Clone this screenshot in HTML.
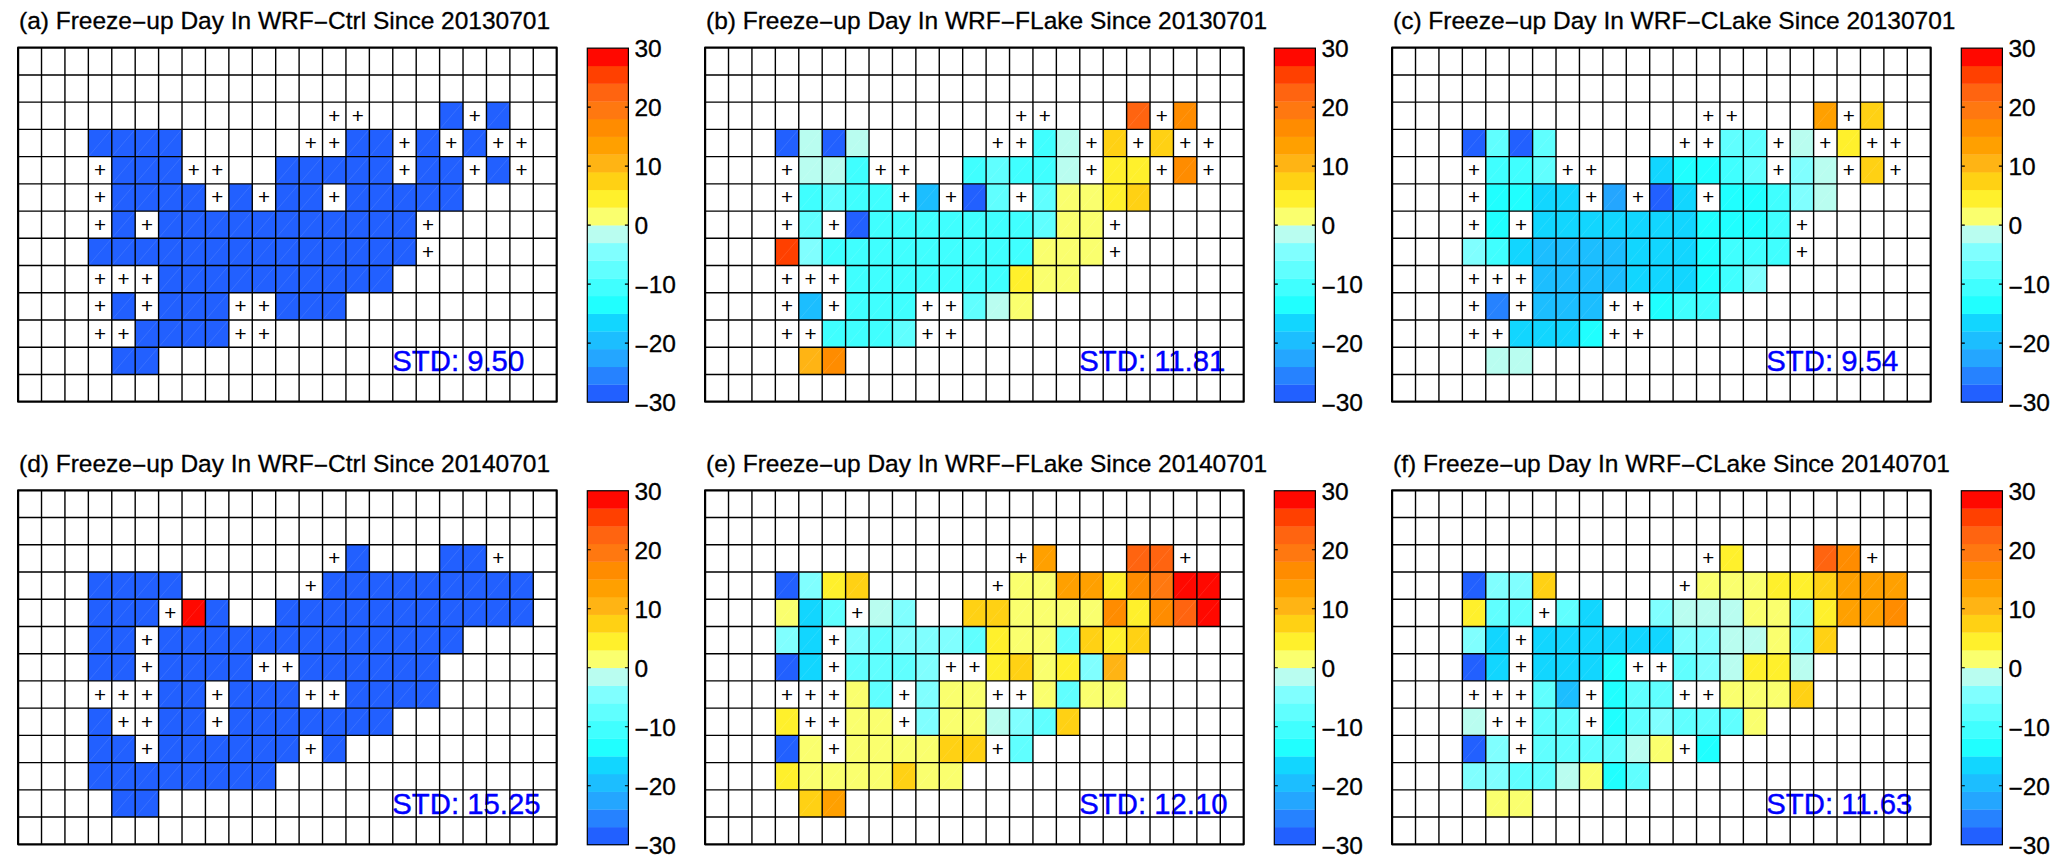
<!DOCTYPE html>
<html lang="en"><head><meta charset="utf-8"><title>Freeze-up Day</title>
<style>html,body{margin:0;padding:0;background:#fff;overflow:hidden}svg{display:block}text{font-family:"Liberation Sans",sans-serif}.t{font-size:24.5px;fill:#000;stroke:#000;stroke-width:.3px}.k{font-size:24.5px;fill:#000;stroke:#000;stroke-width:.3px}.s{font-size:29.3px;fill:#0000ff;stroke:#0000ff;stroke-width:.4px}.p{font-size:20.6px;fill:#000;text-anchor:middle}</style></head><body>
<svg width="2067" height="866" viewBox="0 0 2067 866">
<rect width="2067" height="866" fill="#fff"/>
<g transform="translate(18.10,47.70)">
<text class="t" x="0.9" y="-18.8">(a) Freeze<tspan dy="2.4">−</tspan><tspan dy="-2.4">up Day In WRF</tspan><tspan dy="2.4">−</tspan><tspan dy="-2.4">Ctrl Since 20130701</tspan></text>
<rect x="421.51" y="54.46" width="23.42" height="27.23" fill="#2260ff"/>
<rect x="468.35" y="54.46" width="23.42" height="27.23" fill="#2260ff"/>
<rect x="70.25" y="81.69" width="93.67" height="27.23" fill="#2260ff"/>
<rect x="327.84" y="81.69" width="46.83" height="27.23" fill="#2260ff"/>
<rect x="398.10" y="81.69" width="23.42" height="27.23" fill="#2260ff"/>
<rect x="444.93" y="81.69" width="23.42" height="27.23" fill="#2260ff"/>
<rect x="93.67" y="108.92" width="70.25" height="27.23" fill="#2260ff"/>
<rect x="257.59" y="108.92" width="117.09" height="27.23" fill="#2260ff"/>
<rect x="398.10" y="108.92" width="46.83" height="27.23" fill="#2260ff"/>
<rect x="468.35" y="108.92" width="23.42" height="27.23" fill="#2260ff"/>
<rect x="93.67" y="136.15" width="93.67" height="27.23" fill="#2260ff"/>
<rect x="210.76" y="136.15" width="23.42" height="27.23" fill="#2260ff"/>
<rect x="257.59" y="136.15" width="46.83" height="27.23" fill="#2260ff"/>
<rect x="327.84" y="136.15" width="117.09" height="27.23" fill="#2260ff"/>
<rect x="93.67" y="163.38" width="23.42" height="27.23" fill="#2260ff"/>
<rect x="140.50" y="163.38" width="257.59" height="27.23" fill="#2260ff"/>
<rect x="70.25" y="190.62" width="327.84" height="27.23" fill="#2260ff"/>
<rect x="140.50" y="217.85" width="234.17" height="27.23" fill="#2260ff"/>
<rect x="93.67" y="245.08" width="23.42" height="27.23" fill="#2260ff"/>
<rect x="140.50" y="245.08" width="70.25" height="27.23" fill="#2260ff"/>
<rect x="257.59" y="245.08" width="70.25" height="27.23" fill="#2260ff"/>
<rect x="117.09" y="272.31" width="93.67" height="27.23" fill="#2260ff"/>
<rect x="93.67" y="299.54" width="46.83" height="27.23" fill="#2260ff"/>
<path d="M421.51 81.69L444.93 54.46M468.35 81.69L491.77 54.46M70.25 108.92L93.67 81.69M93.67 108.92L117.09 81.69M117.09 108.92L140.50 81.69M140.50 108.92L163.92 81.69M327.84 108.92L351.26 81.69M351.26 108.92L374.68 81.69M398.10 108.92L421.51 81.69M444.93 108.92L468.35 81.69M93.67 136.15L117.09 108.92M117.09 136.15L140.50 108.92M140.50 136.15L163.92 108.92M257.59 136.15L281.01 108.92M281.01 136.15L304.43 108.92M304.43 136.15L327.84 108.92M327.84 136.15L351.26 108.92M351.26 136.15L374.68 108.92M398.10 136.15L421.51 108.92M421.51 136.15L444.93 108.92M468.35 136.15L491.77 108.92M93.67 163.38L117.09 136.15M117.09 163.38L140.50 136.15M140.50 163.38L163.92 136.15M163.92 163.38L187.34 136.15M210.76 163.38L234.17 136.15M257.59 163.38L281.01 136.15M281.01 163.38L304.43 136.15M327.84 163.38L351.26 136.15M351.26 163.38L374.68 136.15M374.68 163.38L398.10 136.15M398.10 163.38L421.51 136.15M421.51 163.38L444.93 136.15M93.67 190.62L117.09 163.38M140.50 190.62L163.92 163.38M163.92 190.62L187.34 163.38M187.34 190.62L210.76 163.38M210.76 190.62L234.17 163.38M234.17 190.62L257.59 163.38M257.59 190.62L281.01 163.38M281.01 190.62L304.43 163.38M304.43 190.62L327.84 163.38M327.84 190.62L351.26 163.38M351.26 190.62L374.68 163.38M374.68 190.62L398.10 163.38M70.25 217.85L93.67 190.62M93.67 217.85L117.09 190.62M117.09 217.85L140.50 190.62M140.50 217.85L163.92 190.62M163.92 217.85L187.34 190.62M187.34 217.85L210.76 190.62M210.76 217.85L234.17 190.62M234.17 217.85L257.59 190.62M257.59 217.85L281.01 190.62M281.01 217.85L304.43 190.62M304.43 217.85L327.84 190.62M327.84 217.85L351.26 190.62M351.26 217.85L374.68 190.62M374.68 217.85L398.10 190.62M140.50 245.08L163.92 217.85M163.92 245.08L187.34 217.85M187.34 245.08L210.76 217.85M210.76 245.08L234.17 217.85M234.17 245.08L257.59 217.85M257.59 245.08L281.01 217.85M281.01 245.08L304.43 217.85M304.43 245.08L327.84 217.85M327.84 245.08L351.26 217.85M351.26 245.08L374.68 217.85M93.67 272.31L117.09 245.08M140.50 272.31L163.92 245.08M163.92 272.31L187.34 245.08M187.34 272.31L210.76 245.08M257.59 272.31L281.01 245.08M281.01 272.31L304.43 245.08M304.43 272.31L327.84 245.08M117.09 299.54L140.50 272.31M140.50 299.54L163.92 272.31M163.92 299.54L187.34 272.31M187.34 299.54L210.76 272.31M93.67 326.77L117.09 299.54M117.09 326.77L140.50 299.54" stroke="#fff" stroke-opacity=".10" stroke-width="1" fill="none"/>
<text class="s" x="374.2" y="323.6">STD: 9.50</text>
<path d="M23.42 0V354.00M46.83 0V354.00M70.25 0V354.00M93.67 0V354.00M117.09 0V354.00M140.50 0V354.00M163.92 0V354.00M187.34 0V354.00M210.76 0V354.00M234.17 0V354.00M257.59 0V354.00M281.01 0V354.00M304.43 0V354.00M327.84 0V354.00M351.26 0V354.00M374.68 0V354.00M398.10 0V354.00M421.51 0V354.00M444.93 0V354.00M468.35 0V354.00M491.77 0V354.00M515.18 0V354.00M0 27.23H538.60M0 54.46H538.60M0 81.69H538.60M0 108.92H538.60M0 136.15H538.60M0 163.38H538.60M0 190.62H538.60M0 217.85H538.60M0 245.08H538.60M0 272.31H538.60M0 299.54H538.60M0 326.77H538.60" stroke="#000" stroke-width="1.4" fill="none"/>
<rect x="0" y="0" width="538.60" height="354.00" fill="none" stroke="#000" stroke-width="2.2" stroke-linejoin="round"/>
<text class="p" x="316.13" y="75.08">+</text>
<text class="p" x="339.55" y="75.08">+</text>
<text class="p" x="456.64" y="75.08">+</text>
<text class="p" x="292.72" y="102.31">+</text>
<text class="p" x="316.13" y="102.31">+</text>
<text class="p" x="386.39" y="102.31">+</text>
<text class="p" x="433.22" y="102.31">+</text>
<text class="p" x="480.06" y="102.31">+</text>
<text class="p" x="503.47" y="102.31">+</text>
<text class="p" x="81.96" y="129.54">+</text>
<text class="p" x="175.63" y="129.54">+</text>
<text class="p" x="199.05" y="129.54">+</text>
<text class="p" x="386.39" y="129.54">+</text>
<text class="p" x="456.64" y="129.54">+</text>
<text class="p" x="503.47" y="129.54">+</text>
<text class="p" x="81.96" y="156.77">+</text>
<text class="p" x="199.05" y="156.77">+</text>
<text class="p" x="245.88" y="156.77">+</text>
<text class="p" x="316.13" y="156.77">+</text>
<text class="p" x="81.96" y="184.00">+</text>
<text class="p" x="128.80" y="184.00">+</text>
<text class="p" x="409.80" y="184.00">+</text>
<text class="p" x="409.80" y="211.23">+</text>
<text class="p" x="81.96" y="238.46">+</text>
<text class="p" x="105.38" y="238.46">+</text>
<text class="p" x="128.80" y="238.46">+</text>
<text class="p" x="81.96" y="265.69">+</text>
<text class="p" x="128.80" y="265.69">+</text>
<text class="p" x="222.47" y="265.69">+</text>
<text class="p" x="245.88" y="265.69">+</text>
<text class="p" x="81.96" y="292.92">+</text>
<text class="p" x="105.38" y="292.92">+</text>
<text class="p" x="222.47" y="292.92">+</text>
<text class="p" x="245.88" y="292.92">+</text>
<g transform="translate(0,0.45)">
<rect x="569.20" y="336.30" width="41.10" height="18.00" fill="#2260ff"/>
<rect x="569.20" y="318.60" width="41.10" height="18.00" fill="#2682ff"/>
<rect x="569.20" y="300.90" width="41.10" height="18.00" fill="#24a6ff"/>
<rect x="569.20" y="283.20" width="41.10" height="18.00" fill="#1cbeff"/>
<rect x="569.20" y="265.50" width="41.10" height="18.00" fill="#12d6ff"/>
<rect x="569.20" y="247.80" width="41.10" height="18.00" fill="#20ffff"/>
<rect x="569.20" y="230.10" width="41.10" height="18.00" fill="#40ffff"/>
<rect x="569.20" y="212.40" width="41.10" height="18.00" fill="#60ffff"/>
<rect x="569.20" y="194.70" width="41.10" height="18.00" fill="#80ffff"/>
<rect x="569.20" y="177.00" width="41.10" height="18.00" fill="#b9fdf0"/>
<rect x="569.20" y="159.30" width="41.10" height="18.00" fill="#faff6e"/>
<rect x="569.20" y="141.60" width="41.10" height="18.00" fill="#fff02c"/>
<rect x="569.20" y="123.90" width="41.10" height="18.00" fill="#ffd114"/>
<rect x="569.20" y="106.20" width="41.10" height="18.00" fill="#ffb414"/>
<rect x="569.20" y="88.50" width="41.10" height="18.00" fill="#ffa000"/>
<rect x="569.20" y="70.80" width="41.10" height="18.00" fill="#ff8c00"/>
<rect x="569.20" y="53.10" width="41.10" height="18.00" fill="#ff7810"/>
<rect x="569.20" y="35.40" width="41.10" height="18.00" fill="#ff6410"/>
<rect x="569.20" y="17.70" width="41.10" height="18.00" fill="#ff4000"/>
<rect x="569.20" y="0.00" width="41.10" height="18.00" fill="#ff0800"/>
<rect x="569.20" y="0" width="41.10" height="354.00" fill="none" stroke="#000" stroke-width="1.2"/>
<text class="k" x="616.3" y="9.2">30</text>
<path d="M569.20 59.00h3.5M610.30 59.00h-3.5" stroke="#000" stroke-width="1.2"/>
<text class="k" x="616.3" y="68.2">20</text>
<path d="M569.20 118.00h3.5M610.30 118.00h-3.5" stroke="#000" stroke-width="1.2"/>
<text class="k" x="616.3" y="127.2">10</text>
<path d="M569.20 177.00h3.5M610.30 177.00h-3.5" stroke="#000" stroke-width="1.2"/>
<text class="k" x="616.3" y="186.2">0</text>
<path d="M569.20 236.00h3.5M610.30 236.00h-3.5" stroke="#000" stroke-width="1.2"/>
<text class="k" x="616.3" y="245.2"><tspan dy="2.4">−</tspan><tspan dy="-2.4">10</tspan></text>
<path d="M569.20 295.00h3.5M610.30 295.00h-3.5" stroke="#000" stroke-width="1.2"/>
<text class="k" x="616.3" y="304.2"><tspan dy="2.4">−</tspan><tspan dy="-2.4">20</tspan></text>
<text class="k" x="616.3" y="363.2"><tspan dy="2.4">−</tspan><tspan dy="-2.4">30</tspan></text>
</g>
</g>
<g transform="translate(705.10,47.70)">
<text class="t" x="0.9" y="-18.8">(b) Freeze<tspan dy="2.4">−</tspan><tspan dy="-2.4">up Day In WRF</tspan><tspan dy="2.4">−</tspan><tspan dy="-2.4">FLake Since 20130701</tspan></text>
<rect x="421.51" y="54.46" width="23.42" height="27.23" fill="#ff6410"/>
<rect x="468.35" y="54.46" width="23.42" height="27.23" fill="#ff8c00"/>
<rect x="70.25" y="81.69" width="23.42" height="27.23" fill="#2260ff"/>
<rect x="93.67" y="81.69" width="23.42" height="27.23" fill="#b9fdf0"/>
<rect x="117.09" y="81.69" width="23.42" height="27.23" fill="#2260ff"/>
<rect x="140.50" y="81.69" width="23.42" height="27.23" fill="#b9fdf0"/>
<rect x="327.84" y="81.69" width="23.42" height="27.23" fill="#40ffff"/>
<rect x="351.26" y="81.69" width="23.42" height="27.23" fill="#b9fdf0"/>
<rect x="398.10" y="81.69" width="23.42" height="27.23" fill="#ffd114"/>
<rect x="444.93" y="81.69" width="23.42" height="27.23" fill="#ffd114"/>
<rect x="93.67" y="108.92" width="46.83" height="27.23" fill="#b9fdf0"/>
<rect x="140.50" y="108.92" width="23.42" height="27.23" fill="#40ffff"/>
<rect x="257.59" y="108.92" width="23.42" height="27.23" fill="#40ffff"/>
<rect x="281.01" y="108.92" width="23.42" height="27.23" fill="#60ffff"/>
<rect x="304.43" y="108.92" width="46.83" height="27.23" fill="#40ffff"/>
<rect x="351.26" y="108.92" width="23.42" height="27.23" fill="#b9fdf0"/>
<rect x="398.10" y="108.92" width="46.83" height="27.23" fill="#fff02c"/>
<rect x="468.35" y="108.92" width="23.42" height="27.23" fill="#ff8c00"/>
<rect x="93.67" y="136.15" width="23.42" height="27.23" fill="#40ffff"/>
<rect x="117.09" y="136.15" width="23.42" height="27.23" fill="#60ffff"/>
<rect x="140.50" y="136.15" width="46.83" height="27.23" fill="#40ffff"/>
<rect x="210.76" y="136.15" width="23.42" height="27.23" fill="#1cbeff"/>
<rect x="257.59" y="136.15" width="23.42" height="27.23" fill="#2260ff"/>
<rect x="281.01" y="136.15" width="23.42" height="27.23" fill="#60ffff"/>
<rect x="327.84" y="136.15" width="23.42" height="27.23" fill="#60ffff"/>
<rect x="351.26" y="136.15" width="46.83" height="27.23" fill="#faff6e"/>
<rect x="398.10" y="136.15" width="23.42" height="27.23" fill="#fff02c"/>
<rect x="421.51" y="136.15" width="23.42" height="27.23" fill="#ffd114"/>
<rect x="93.67" y="163.38" width="23.42" height="27.23" fill="#60ffff"/>
<rect x="140.50" y="163.38" width="23.42" height="27.23" fill="#2260ff"/>
<rect x="163.92" y="163.38" width="163.92" height="27.23" fill="#40ffff"/>
<rect x="327.84" y="163.38" width="23.42" height="27.23" fill="#60ffff"/>
<rect x="351.26" y="163.38" width="46.83" height="27.23" fill="#faff6e"/>
<rect x="70.25" y="190.62" width="23.42" height="27.23" fill="#ff4000"/>
<rect x="93.67" y="190.62" width="23.42" height="27.23" fill="#80ffff"/>
<rect x="117.09" y="190.62" width="210.76" height="27.23" fill="#40ffff"/>
<rect x="327.84" y="190.62" width="70.25" height="27.23" fill="#faff6e"/>
<rect x="140.50" y="217.85" width="163.92" height="27.23" fill="#40ffff"/>
<rect x="304.43" y="217.85" width="23.42" height="27.23" fill="#fff02c"/>
<rect x="327.84" y="217.85" width="46.83" height="27.23" fill="#faff6e"/>
<rect x="93.67" y="245.08" width="23.42" height="27.23" fill="#1cbeff"/>
<rect x="140.50" y="245.08" width="70.25" height="27.23" fill="#40ffff"/>
<rect x="257.59" y="245.08" width="23.42" height="27.23" fill="#60ffff"/>
<rect x="281.01" y="245.08" width="23.42" height="27.23" fill="#b9fdf0"/>
<rect x="304.43" y="245.08" width="23.42" height="27.23" fill="#faff6e"/>
<rect x="117.09" y="272.31" width="70.25" height="27.23" fill="#40ffff"/>
<rect x="187.34" y="272.31" width="23.42" height="27.23" fill="#60ffff"/>
<rect x="93.67" y="299.54" width="23.42" height="27.23" fill="#ffb414"/>
<rect x="117.09" y="299.54" width="23.42" height="27.23" fill="#ff8c00"/>
<path d="M421.51 81.69L444.93 54.46M468.35 81.69L491.77 54.46M70.25 108.92L93.67 81.69M93.67 108.92L117.09 81.69M117.09 108.92L140.50 81.69M140.50 108.92L163.92 81.69M327.84 108.92L351.26 81.69M351.26 108.92L374.68 81.69M398.10 108.92L421.51 81.69M444.93 108.92L468.35 81.69M93.67 136.15L117.09 108.92M117.09 136.15L140.50 108.92M140.50 136.15L163.92 108.92M257.59 136.15L281.01 108.92M281.01 136.15L304.43 108.92M304.43 136.15L327.84 108.92M327.84 136.15L351.26 108.92M351.26 136.15L374.68 108.92M398.10 136.15L421.51 108.92M421.51 136.15L444.93 108.92M468.35 136.15L491.77 108.92M93.67 163.38L117.09 136.15M117.09 163.38L140.50 136.15M140.50 163.38L163.92 136.15M163.92 163.38L187.34 136.15M210.76 163.38L234.17 136.15M257.59 163.38L281.01 136.15M281.01 163.38L304.43 136.15M327.84 163.38L351.26 136.15M351.26 163.38L374.68 136.15M374.68 163.38L398.10 136.15M398.10 163.38L421.51 136.15M421.51 163.38L444.93 136.15M93.67 190.62L117.09 163.38M140.50 190.62L163.92 163.38M163.92 190.62L187.34 163.38M187.34 190.62L210.76 163.38M210.76 190.62L234.17 163.38M234.17 190.62L257.59 163.38M257.59 190.62L281.01 163.38M281.01 190.62L304.43 163.38M304.43 190.62L327.84 163.38M327.84 190.62L351.26 163.38M351.26 190.62L374.68 163.38M374.68 190.62L398.10 163.38M70.25 217.85L93.67 190.62M93.67 217.85L117.09 190.62M117.09 217.85L140.50 190.62M140.50 217.85L163.92 190.62M163.92 217.85L187.34 190.62M187.34 217.85L210.76 190.62M210.76 217.85L234.17 190.62M234.17 217.85L257.59 190.62M257.59 217.85L281.01 190.62M281.01 217.85L304.43 190.62M304.43 217.85L327.84 190.62M327.84 217.85L351.26 190.62M351.26 217.85L374.68 190.62M374.68 217.85L398.10 190.62M140.50 245.08L163.92 217.85M163.92 245.08L187.34 217.85M187.34 245.08L210.76 217.85M210.76 245.08L234.17 217.85M234.17 245.08L257.59 217.85M257.59 245.08L281.01 217.85M281.01 245.08L304.43 217.85M304.43 245.08L327.84 217.85M327.84 245.08L351.26 217.85M351.26 245.08L374.68 217.85M93.67 272.31L117.09 245.08M140.50 272.31L163.92 245.08M163.92 272.31L187.34 245.08M187.34 272.31L210.76 245.08M257.59 272.31L281.01 245.08M281.01 272.31L304.43 245.08M304.43 272.31L327.84 245.08M117.09 299.54L140.50 272.31M140.50 299.54L163.92 272.31M163.92 299.54L187.34 272.31M187.34 299.54L210.76 272.31M93.67 326.77L117.09 299.54M117.09 326.77L140.50 299.54" stroke="#fff" stroke-opacity=".10" stroke-width="1" fill="none"/>
<text class="s" x="374.2" y="323.6">STD: 11.81</text>
<path d="M23.42 0V354.00M46.83 0V354.00M70.25 0V354.00M93.67 0V354.00M117.09 0V354.00M140.50 0V354.00M163.92 0V354.00M187.34 0V354.00M210.76 0V354.00M234.17 0V354.00M257.59 0V354.00M281.01 0V354.00M304.43 0V354.00M327.84 0V354.00M351.26 0V354.00M374.68 0V354.00M398.10 0V354.00M421.51 0V354.00M444.93 0V354.00M468.35 0V354.00M491.77 0V354.00M515.18 0V354.00M0 27.23H538.60M0 54.46H538.60M0 81.69H538.60M0 108.92H538.60M0 136.15H538.60M0 163.38H538.60M0 190.62H538.60M0 217.85H538.60M0 245.08H538.60M0 272.31H538.60M0 299.54H538.60M0 326.77H538.60" stroke="#000" stroke-width="1.4" fill="none"/>
<rect x="0" y="0" width="538.60" height="354.00" fill="none" stroke="#000" stroke-width="2.2" stroke-linejoin="round"/>
<text class="p" x="316.13" y="75.08">+</text>
<text class="p" x="339.55" y="75.08">+</text>
<text class="p" x="456.64" y="75.08">+</text>
<text class="p" x="292.72" y="102.31">+</text>
<text class="p" x="316.13" y="102.31">+</text>
<text class="p" x="386.39" y="102.31">+</text>
<text class="p" x="433.22" y="102.31">+</text>
<text class="p" x="480.06" y="102.31">+</text>
<text class="p" x="503.47" y="102.31">+</text>
<text class="p" x="81.96" y="129.54">+</text>
<text class="p" x="175.63" y="129.54">+</text>
<text class="p" x="199.05" y="129.54">+</text>
<text class="p" x="386.39" y="129.54">+</text>
<text class="p" x="456.64" y="129.54">+</text>
<text class="p" x="503.47" y="129.54">+</text>
<text class="p" x="81.96" y="156.77">+</text>
<text class="p" x="199.05" y="156.77">+</text>
<text class="p" x="245.88" y="156.77">+</text>
<text class="p" x="316.13" y="156.77">+</text>
<text class="p" x="81.96" y="184.00">+</text>
<text class="p" x="128.80" y="184.00">+</text>
<text class="p" x="409.80" y="184.00">+</text>
<text class="p" x="409.80" y="211.23">+</text>
<text class="p" x="81.96" y="238.46">+</text>
<text class="p" x="105.38" y="238.46">+</text>
<text class="p" x="128.80" y="238.46">+</text>
<text class="p" x="81.96" y="265.69">+</text>
<text class="p" x="128.80" y="265.69">+</text>
<text class="p" x="222.47" y="265.69">+</text>
<text class="p" x="245.88" y="265.69">+</text>
<text class="p" x="81.96" y="292.92">+</text>
<text class="p" x="105.38" y="292.92">+</text>
<text class="p" x="222.47" y="292.92">+</text>
<text class="p" x="245.88" y="292.92">+</text>
<g transform="translate(0,0.45)">
<rect x="569.20" y="336.30" width="41.10" height="18.00" fill="#2260ff"/>
<rect x="569.20" y="318.60" width="41.10" height="18.00" fill="#2682ff"/>
<rect x="569.20" y="300.90" width="41.10" height="18.00" fill="#24a6ff"/>
<rect x="569.20" y="283.20" width="41.10" height="18.00" fill="#1cbeff"/>
<rect x="569.20" y="265.50" width="41.10" height="18.00" fill="#12d6ff"/>
<rect x="569.20" y="247.80" width="41.10" height="18.00" fill="#20ffff"/>
<rect x="569.20" y="230.10" width="41.10" height="18.00" fill="#40ffff"/>
<rect x="569.20" y="212.40" width="41.10" height="18.00" fill="#60ffff"/>
<rect x="569.20" y="194.70" width="41.10" height="18.00" fill="#80ffff"/>
<rect x="569.20" y="177.00" width="41.10" height="18.00" fill="#b9fdf0"/>
<rect x="569.20" y="159.30" width="41.10" height="18.00" fill="#faff6e"/>
<rect x="569.20" y="141.60" width="41.10" height="18.00" fill="#fff02c"/>
<rect x="569.20" y="123.90" width="41.10" height="18.00" fill="#ffd114"/>
<rect x="569.20" y="106.20" width="41.10" height="18.00" fill="#ffb414"/>
<rect x="569.20" y="88.50" width="41.10" height="18.00" fill="#ffa000"/>
<rect x="569.20" y="70.80" width="41.10" height="18.00" fill="#ff8c00"/>
<rect x="569.20" y="53.10" width="41.10" height="18.00" fill="#ff7810"/>
<rect x="569.20" y="35.40" width="41.10" height="18.00" fill="#ff6410"/>
<rect x="569.20" y="17.70" width="41.10" height="18.00" fill="#ff4000"/>
<rect x="569.20" y="0.00" width="41.10" height="18.00" fill="#ff0800"/>
<rect x="569.20" y="0" width="41.10" height="354.00" fill="none" stroke="#000" stroke-width="1.2"/>
<text class="k" x="616.3" y="9.2">30</text>
<path d="M569.20 59.00h3.5M610.30 59.00h-3.5" stroke="#000" stroke-width="1.2"/>
<text class="k" x="616.3" y="68.2">20</text>
<path d="M569.20 118.00h3.5M610.30 118.00h-3.5" stroke="#000" stroke-width="1.2"/>
<text class="k" x="616.3" y="127.2">10</text>
<path d="M569.20 177.00h3.5M610.30 177.00h-3.5" stroke="#000" stroke-width="1.2"/>
<text class="k" x="616.3" y="186.2">0</text>
<path d="M569.20 236.00h3.5M610.30 236.00h-3.5" stroke="#000" stroke-width="1.2"/>
<text class="k" x="616.3" y="245.2"><tspan dy="2.4">−</tspan><tspan dy="-2.4">10</tspan></text>
<path d="M569.20 295.00h3.5M610.30 295.00h-3.5" stroke="#000" stroke-width="1.2"/>
<text class="k" x="616.3" y="304.2"><tspan dy="2.4">−</tspan><tspan dy="-2.4">20</tspan></text>
<text class="k" x="616.3" y="363.2"><tspan dy="2.4">−</tspan><tspan dy="-2.4">30</tspan></text>
</g>
</g>
<g transform="translate(1392.10,47.70)">
<text class="t" x="0.9" y="-18.8">(c) Freeze<tspan dy="2.4">−</tspan><tspan dy="-2.4">up Day In WRF</tspan><tspan dy="2.4">−</tspan><tspan dy="-2.4">CLake Since 20130701</tspan></text>
<rect x="421.51" y="54.46" width="23.42" height="27.23" fill="#ffa000"/>
<rect x="468.35" y="54.46" width="23.42" height="27.23" fill="#ffd114"/>
<rect x="70.25" y="81.69" width="23.42" height="27.23" fill="#2260ff"/>
<rect x="93.67" y="81.69" width="23.42" height="27.23" fill="#60ffff"/>
<rect x="117.09" y="81.69" width="23.42" height="27.23" fill="#2260ff"/>
<rect x="140.50" y="81.69" width="23.42" height="27.23" fill="#60ffff"/>
<rect x="327.84" y="81.69" width="46.83" height="27.23" fill="#60ffff"/>
<rect x="398.10" y="81.69" width="23.42" height="27.23" fill="#b9fdf0"/>
<rect x="444.93" y="81.69" width="23.42" height="27.23" fill="#fff02c"/>
<rect x="93.67" y="108.92" width="46.83" height="27.23" fill="#40ffff"/>
<rect x="140.50" y="108.92" width="23.42" height="27.23" fill="#60ffff"/>
<rect x="257.59" y="108.92" width="23.42" height="27.23" fill="#12d6ff"/>
<rect x="281.01" y="108.92" width="46.83" height="27.23" fill="#20ffff"/>
<rect x="327.84" y="108.92" width="23.42" height="27.23" fill="#40ffff"/>
<rect x="351.26" y="108.92" width="23.42" height="27.23" fill="#60ffff"/>
<rect x="398.10" y="108.92" width="23.42" height="27.23" fill="#80ffff"/>
<rect x="421.51" y="108.92" width="23.42" height="27.23" fill="#b9fdf0"/>
<rect x="468.35" y="108.92" width="23.42" height="27.23" fill="#ffd114"/>
<rect x="93.67" y="136.15" width="46.83" height="27.23" fill="#20ffff"/>
<rect x="140.50" y="136.15" width="46.83" height="27.23" fill="#12d6ff"/>
<rect x="210.76" y="136.15" width="23.42" height="27.23" fill="#24a6ff"/>
<rect x="257.59" y="136.15" width="23.42" height="27.23" fill="#2260ff"/>
<rect x="281.01" y="136.15" width="23.42" height="27.23" fill="#12d6ff"/>
<rect x="327.84" y="136.15" width="46.83" height="27.23" fill="#20ffff"/>
<rect x="374.68" y="136.15" width="23.42" height="27.23" fill="#40ffff"/>
<rect x="398.10" y="136.15" width="23.42" height="27.23" fill="#80ffff"/>
<rect x="421.51" y="136.15" width="23.42" height="27.23" fill="#b9fdf0"/>
<rect x="93.67" y="163.38" width="23.42" height="27.23" fill="#20ffff"/>
<rect x="140.50" y="163.38" width="163.92" height="27.23" fill="#12d6ff"/>
<rect x="304.43" y="163.38" width="70.25" height="27.23" fill="#20ffff"/>
<rect x="374.68" y="163.38" width="23.42" height="27.23" fill="#40ffff"/>
<rect x="70.25" y="190.62" width="23.42" height="27.23" fill="#80ffff"/>
<rect x="93.67" y="190.62" width="23.42" height="27.23" fill="#40ffff"/>
<rect x="117.09" y="190.62" width="23.42" height="27.23" fill="#12d6ff"/>
<rect x="140.50" y="190.62" width="93.67" height="27.23" fill="#1cbeff"/>
<rect x="234.17" y="190.62" width="70.25" height="27.23" fill="#12d6ff"/>
<rect x="304.43" y="190.62" width="23.42" height="27.23" fill="#20ffff"/>
<rect x="327.84" y="190.62" width="70.25" height="27.23" fill="#40ffff"/>
<rect x="140.50" y="217.85" width="93.67" height="27.23" fill="#1cbeff"/>
<rect x="234.17" y="217.85" width="70.25" height="27.23" fill="#12d6ff"/>
<rect x="304.43" y="217.85" width="23.42" height="27.23" fill="#20ffff"/>
<rect x="327.84" y="217.85" width="23.42" height="27.23" fill="#40ffff"/>
<rect x="351.26" y="217.85" width="23.42" height="27.23" fill="#80ffff"/>
<rect x="93.67" y="245.08" width="23.42" height="27.23" fill="#2682ff"/>
<rect x="140.50" y="245.08" width="70.25" height="27.23" fill="#1cbeff"/>
<rect x="257.59" y="245.08" width="23.42" height="27.23" fill="#20ffff"/>
<rect x="281.01" y="245.08" width="46.83" height="27.23" fill="#40ffff"/>
<rect x="117.09" y="272.31" width="70.25" height="27.23" fill="#12d6ff"/>
<rect x="187.34" y="272.31" width="23.42" height="27.23" fill="#20ffff"/>
<rect x="93.67" y="299.54" width="46.83" height="27.23" fill="#b9fdf0"/>
<path d="M421.51 81.69L444.93 54.46M468.35 81.69L491.77 54.46M70.25 108.92L93.67 81.69M93.67 108.92L117.09 81.69M117.09 108.92L140.50 81.69M140.50 108.92L163.92 81.69M327.84 108.92L351.26 81.69M351.26 108.92L374.68 81.69M398.10 108.92L421.51 81.69M444.93 108.92L468.35 81.69M93.67 136.15L117.09 108.92M117.09 136.15L140.50 108.92M140.50 136.15L163.92 108.92M257.59 136.15L281.01 108.92M281.01 136.15L304.43 108.92M304.43 136.15L327.84 108.92M327.84 136.15L351.26 108.92M351.26 136.15L374.68 108.92M398.10 136.15L421.51 108.92M421.51 136.15L444.93 108.92M468.35 136.15L491.77 108.92M93.67 163.38L117.09 136.15M117.09 163.38L140.50 136.15M140.50 163.38L163.92 136.15M163.92 163.38L187.34 136.15M210.76 163.38L234.17 136.15M257.59 163.38L281.01 136.15M281.01 163.38L304.43 136.15M327.84 163.38L351.26 136.15M351.26 163.38L374.68 136.15M374.68 163.38L398.10 136.15M398.10 163.38L421.51 136.15M421.51 163.38L444.93 136.15M93.67 190.62L117.09 163.38M140.50 190.62L163.92 163.38M163.92 190.62L187.34 163.38M187.34 190.62L210.76 163.38M210.76 190.62L234.17 163.38M234.17 190.62L257.59 163.38M257.59 190.62L281.01 163.38M281.01 190.62L304.43 163.38M304.43 190.62L327.84 163.38M327.84 190.62L351.26 163.38M351.26 190.62L374.68 163.38M374.68 190.62L398.10 163.38M70.25 217.85L93.67 190.62M93.67 217.85L117.09 190.62M117.09 217.85L140.50 190.62M140.50 217.85L163.92 190.62M163.92 217.85L187.34 190.62M187.34 217.85L210.76 190.62M210.76 217.85L234.17 190.62M234.17 217.85L257.59 190.62M257.59 217.85L281.01 190.62M281.01 217.85L304.43 190.62M304.43 217.85L327.84 190.62M327.84 217.85L351.26 190.62M351.26 217.85L374.68 190.62M374.68 217.85L398.10 190.62M140.50 245.08L163.92 217.85M163.92 245.08L187.34 217.85M187.34 245.08L210.76 217.85M210.76 245.08L234.17 217.85M234.17 245.08L257.59 217.85M257.59 245.08L281.01 217.85M281.01 245.08L304.43 217.85M304.43 245.08L327.84 217.85M327.84 245.08L351.26 217.85M351.26 245.08L374.68 217.85M93.67 272.31L117.09 245.08M140.50 272.31L163.92 245.08M163.92 272.31L187.34 245.08M187.34 272.31L210.76 245.08M257.59 272.31L281.01 245.08M281.01 272.31L304.43 245.08M304.43 272.31L327.84 245.08M117.09 299.54L140.50 272.31M140.50 299.54L163.92 272.31M163.92 299.54L187.34 272.31M187.34 299.54L210.76 272.31M93.67 326.77L117.09 299.54M117.09 326.77L140.50 299.54" stroke="#fff" stroke-opacity=".10" stroke-width="1" fill="none"/>
<text class="s" x="374.2" y="323.6">STD: 9.54</text>
<path d="M23.42 0V354.00M46.83 0V354.00M70.25 0V354.00M93.67 0V354.00M117.09 0V354.00M140.50 0V354.00M163.92 0V354.00M187.34 0V354.00M210.76 0V354.00M234.17 0V354.00M257.59 0V354.00M281.01 0V354.00M304.43 0V354.00M327.84 0V354.00M351.26 0V354.00M374.68 0V354.00M398.10 0V354.00M421.51 0V354.00M444.93 0V354.00M468.35 0V354.00M491.77 0V354.00M515.18 0V354.00M0 27.23H538.60M0 54.46H538.60M0 81.69H538.60M0 108.92H538.60M0 136.15H538.60M0 163.38H538.60M0 190.62H538.60M0 217.85H538.60M0 245.08H538.60M0 272.31H538.60M0 299.54H538.60M0 326.77H538.60" stroke="#000" stroke-width="1.4" fill="none"/>
<rect x="0" y="0" width="538.60" height="354.00" fill="none" stroke="#000" stroke-width="2.2" stroke-linejoin="round"/>
<text class="p" x="316.13" y="75.08">+</text>
<text class="p" x="339.55" y="75.08">+</text>
<text class="p" x="456.64" y="75.08">+</text>
<text class="p" x="292.72" y="102.31">+</text>
<text class="p" x="316.13" y="102.31">+</text>
<text class="p" x="386.39" y="102.31">+</text>
<text class="p" x="433.22" y="102.31">+</text>
<text class="p" x="480.06" y="102.31">+</text>
<text class="p" x="503.47" y="102.31">+</text>
<text class="p" x="81.96" y="129.54">+</text>
<text class="p" x="175.63" y="129.54">+</text>
<text class="p" x="199.05" y="129.54">+</text>
<text class="p" x="386.39" y="129.54">+</text>
<text class="p" x="456.64" y="129.54">+</text>
<text class="p" x="503.47" y="129.54">+</text>
<text class="p" x="81.96" y="156.77">+</text>
<text class="p" x="199.05" y="156.77">+</text>
<text class="p" x="245.88" y="156.77">+</text>
<text class="p" x="316.13" y="156.77">+</text>
<text class="p" x="81.96" y="184.00">+</text>
<text class="p" x="128.80" y="184.00">+</text>
<text class="p" x="409.80" y="184.00">+</text>
<text class="p" x="409.80" y="211.23">+</text>
<text class="p" x="81.96" y="238.46">+</text>
<text class="p" x="105.38" y="238.46">+</text>
<text class="p" x="128.80" y="238.46">+</text>
<text class="p" x="81.96" y="265.69">+</text>
<text class="p" x="128.80" y="265.69">+</text>
<text class="p" x="222.47" y="265.69">+</text>
<text class="p" x="245.88" y="265.69">+</text>
<text class="p" x="81.96" y="292.92">+</text>
<text class="p" x="105.38" y="292.92">+</text>
<text class="p" x="222.47" y="292.92">+</text>
<text class="p" x="245.88" y="292.92">+</text>
<g transform="translate(0,0.45)">
<rect x="569.20" y="336.30" width="41.10" height="18.00" fill="#2260ff"/>
<rect x="569.20" y="318.60" width="41.10" height="18.00" fill="#2682ff"/>
<rect x="569.20" y="300.90" width="41.10" height="18.00" fill="#24a6ff"/>
<rect x="569.20" y="283.20" width="41.10" height="18.00" fill="#1cbeff"/>
<rect x="569.20" y="265.50" width="41.10" height="18.00" fill="#12d6ff"/>
<rect x="569.20" y="247.80" width="41.10" height="18.00" fill="#20ffff"/>
<rect x="569.20" y="230.10" width="41.10" height="18.00" fill="#40ffff"/>
<rect x="569.20" y="212.40" width="41.10" height="18.00" fill="#60ffff"/>
<rect x="569.20" y="194.70" width="41.10" height="18.00" fill="#80ffff"/>
<rect x="569.20" y="177.00" width="41.10" height="18.00" fill="#b9fdf0"/>
<rect x="569.20" y="159.30" width="41.10" height="18.00" fill="#faff6e"/>
<rect x="569.20" y="141.60" width="41.10" height="18.00" fill="#fff02c"/>
<rect x="569.20" y="123.90" width="41.10" height="18.00" fill="#ffd114"/>
<rect x="569.20" y="106.20" width="41.10" height="18.00" fill="#ffb414"/>
<rect x="569.20" y="88.50" width="41.10" height="18.00" fill="#ffa000"/>
<rect x="569.20" y="70.80" width="41.10" height="18.00" fill="#ff8c00"/>
<rect x="569.20" y="53.10" width="41.10" height="18.00" fill="#ff7810"/>
<rect x="569.20" y="35.40" width="41.10" height="18.00" fill="#ff6410"/>
<rect x="569.20" y="17.70" width="41.10" height="18.00" fill="#ff4000"/>
<rect x="569.20" y="0.00" width="41.10" height="18.00" fill="#ff0800"/>
<rect x="569.20" y="0" width="41.10" height="354.00" fill="none" stroke="#000" stroke-width="1.2"/>
<text class="k" x="616.3" y="9.2">30</text>
<path d="M569.20 59.00h3.5M610.30 59.00h-3.5" stroke="#000" stroke-width="1.2"/>
<text class="k" x="616.3" y="68.2">20</text>
<path d="M569.20 118.00h3.5M610.30 118.00h-3.5" stroke="#000" stroke-width="1.2"/>
<text class="k" x="616.3" y="127.2">10</text>
<path d="M569.20 177.00h3.5M610.30 177.00h-3.5" stroke="#000" stroke-width="1.2"/>
<text class="k" x="616.3" y="186.2">0</text>
<path d="M569.20 236.00h3.5M610.30 236.00h-3.5" stroke="#000" stroke-width="1.2"/>
<text class="k" x="616.3" y="245.2"><tspan dy="2.4">−</tspan><tspan dy="-2.4">10</tspan></text>
<path d="M569.20 295.00h3.5M610.30 295.00h-3.5" stroke="#000" stroke-width="1.2"/>
<text class="k" x="616.3" y="304.2"><tspan dy="2.4">−</tspan><tspan dy="-2.4">20</tspan></text>
<text class="k" x="616.3" y="363.2"><tspan dy="2.4">−</tspan><tspan dy="-2.4">30</tspan></text>
</g>
</g>
<g transform="translate(18.10,490.30)">
<text class="t" x="0.9" y="-18.8">(d) Freeze<tspan dy="2.4">−</tspan><tspan dy="-2.4">up Day In WRF</tspan><tspan dy="2.4">−</tspan><tspan dy="-2.4">Ctrl Since 20140701</tspan></text>
<rect x="327.84" y="54.46" width="23.42" height="27.23" fill="#2260ff"/>
<rect x="421.51" y="54.46" width="46.83" height="27.23" fill="#2260ff"/>
<rect x="70.25" y="81.69" width="93.67" height="27.23" fill="#2260ff"/>
<rect x="304.43" y="81.69" width="210.76" height="27.23" fill="#2260ff"/>
<rect x="70.25" y="108.92" width="70.25" height="27.23" fill="#2260ff"/>
<rect x="163.92" y="108.92" width="23.42" height="27.23" fill="#ff0800"/>
<rect x="187.34" y="108.92" width="23.42" height="27.23" fill="#2260ff"/>
<rect x="257.59" y="108.92" width="257.59" height="27.23" fill="#2260ff"/>
<rect x="70.25" y="136.15" width="46.83" height="27.23" fill="#2260ff"/>
<rect x="140.50" y="136.15" width="304.43" height="27.23" fill="#2260ff"/>
<rect x="70.25" y="163.38" width="46.83" height="27.23" fill="#2260ff"/>
<rect x="140.50" y="163.38" width="93.67" height="27.23" fill="#2260ff"/>
<rect x="281.01" y="163.38" width="140.50" height="27.23" fill="#2260ff"/>
<rect x="140.50" y="190.62" width="46.83" height="27.23" fill="#2260ff"/>
<rect x="210.76" y="190.62" width="70.25" height="27.23" fill="#2260ff"/>
<rect x="327.84" y="190.62" width="93.67" height="27.23" fill="#2260ff"/>
<rect x="70.25" y="217.85" width="23.42" height="27.23" fill="#2260ff"/>
<rect x="140.50" y="217.85" width="46.83" height="27.23" fill="#2260ff"/>
<rect x="210.76" y="217.85" width="163.92" height="27.23" fill="#2260ff"/>
<rect x="70.25" y="245.08" width="46.83" height="27.23" fill="#2260ff"/>
<rect x="140.50" y="245.08" width="140.50" height="27.23" fill="#2260ff"/>
<rect x="304.43" y="245.08" width="23.42" height="27.23" fill="#2260ff"/>
<rect x="70.25" y="272.31" width="187.34" height="27.23" fill="#2260ff"/>
<rect x="93.67" y="299.54" width="46.83" height="27.23" fill="#2260ff"/>
<path d="M327.84 81.69L351.26 54.46M421.51 81.69L444.93 54.46M444.93 81.69L468.35 54.46M70.25 108.92L93.67 81.69M93.67 108.92L117.09 81.69M117.09 108.92L140.50 81.69M140.50 108.92L163.92 81.69M304.43 108.92L327.84 81.69M327.84 108.92L351.26 81.69M351.26 108.92L374.68 81.69M374.68 108.92L398.10 81.69M398.10 108.92L421.51 81.69M421.51 108.92L444.93 81.69M444.93 108.92L468.35 81.69M468.35 108.92L491.77 81.69M491.77 108.92L515.18 81.69M70.25 136.15L93.67 108.92M93.67 136.15L117.09 108.92M117.09 136.15L140.50 108.92M163.92 136.15L187.34 108.92M187.34 136.15L210.76 108.92M257.59 136.15L281.01 108.92M281.01 136.15L304.43 108.92M304.43 136.15L327.84 108.92M327.84 136.15L351.26 108.92M351.26 136.15L374.68 108.92M374.68 136.15L398.10 108.92M398.10 136.15L421.51 108.92M421.51 136.15L444.93 108.92M444.93 136.15L468.35 108.92M468.35 136.15L491.77 108.92M491.77 136.15L515.18 108.92M70.25 163.38L93.67 136.15M93.67 163.38L117.09 136.15M140.50 163.38L163.92 136.15M163.92 163.38L187.34 136.15M187.34 163.38L210.76 136.15M210.76 163.38L234.17 136.15M234.17 163.38L257.59 136.15M257.59 163.38L281.01 136.15M281.01 163.38L304.43 136.15M304.43 163.38L327.84 136.15M327.84 163.38L351.26 136.15M351.26 163.38L374.68 136.15M374.68 163.38L398.10 136.15M398.10 163.38L421.51 136.15M421.51 163.38L444.93 136.15M70.25 190.62L93.67 163.38M93.67 190.62L117.09 163.38M140.50 190.62L163.92 163.38M163.92 190.62L187.34 163.38M187.34 190.62L210.76 163.38M210.76 190.62L234.17 163.38M281.01 190.62L304.43 163.38M304.43 190.62L327.84 163.38M327.84 190.62L351.26 163.38M351.26 190.62L374.68 163.38M374.68 190.62L398.10 163.38M398.10 190.62L421.51 163.38M140.50 217.85L163.92 190.62M163.92 217.85L187.34 190.62M210.76 217.85L234.17 190.62M234.17 217.85L257.59 190.62M257.59 217.85L281.01 190.62M327.84 217.85L351.26 190.62M351.26 217.85L374.68 190.62M374.68 217.85L398.10 190.62M398.10 217.85L421.51 190.62M70.25 245.08L93.67 217.85M140.50 245.08L163.92 217.85M163.92 245.08L187.34 217.85M210.76 245.08L234.17 217.85M234.17 245.08L257.59 217.85M257.59 245.08L281.01 217.85M281.01 245.08L304.43 217.85M304.43 245.08L327.84 217.85M327.84 245.08L351.26 217.85M351.26 245.08L374.68 217.85M70.25 272.31L93.67 245.08M93.67 272.31L117.09 245.08M140.50 272.31L163.92 245.08M163.92 272.31L187.34 245.08M187.34 272.31L210.76 245.08M210.76 272.31L234.17 245.08M234.17 272.31L257.59 245.08M257.59 272.31L281.01 245.08M304.43 272.31L327.84 245.08M70.25 299.54L93.67 272.31M93.67 299.54L117.09 272.31M117.09 299.54L140.50 272.31M140.50 299.54L163.92 272.31M163.92 299.54L187.34 272.31M187.34 299.54L210.76 272.31M210.76 299.54L234.17 272.31M234.17 299.54L257.59 272.31M93.67 326.77L117.09 299.54M117.09 326.77L140.50 299.54" stroke="#fff" stroke-opacity=".10" stroke-width="1" fill="none"/>
<text class="s" x="374.2" y="323.6">STD: 15.25</text>
<path d="M23.42 0V354.00M46.83 0V354.00M70.25 0V354.00M93.67 0V354.00M117.09 0V354.00M140.50 0V354.00M163.92 0V354.00M187.34 0V354.00M210.76 0V354.00M234.17 0V354.00M257.59 0V354.00M281.01 0V354.00M304.43 0V354.00M327.84 0V354.00M351.26 0V354.00M374.68 0V354.00M398.10 0V354.00M421.51 0V354.00M444.93 0V354.00M468.35 0V354.00M491.77 0V354.00M515.18 0V354.00M0 27.23H538.60M0 54.46H538.60M0 81.69H538.60M0 108.92H538.60M0 136.15H538.60M0 163.38H538.60M0 190.62H538.60M0 217.85H538.60M0 245.08H538.60M0 272.31H538.60M0 299.54H538.60M0 326.77H538.60" stroke="#000" stroke-width="1.4" fill="none"/>
<rect x="0" y="0" width="538.60" height="354.00" fill="none" stroke="#000" stroke-width="2.2" stroke-linejoin="round"/>
<text class="p" x="316.13" y="75.08">+</text>
<text class="p" x="480.06" y="75.08">+</text>
<text class="p" x="292.72" y="102.31">+</text>
<text class="p" x="152.21" y="129.54">+</text>
<text class="p" x="128.80" y="156.77">+</text>
<text class="p" x="128.80" y="184.00">+</text>
<text class="p" x="245.88" y="184.00">+</text>
<text class="p" x="269.30" y="184.00">+</text>
<text class="p" x="81.96" y="211.23">+</text>
<text class="p" x="105.38" y="211.23">+</text>
<text class="p" x="128.80" y="211.23">+</text>
<text class="p" x="199.05" y="211.23">+</text>
<text class="p" x="292.72" y="211.23">+</text>
<text class="p" x="316.13" y="211.23">+</text>
<text class="p" x="105.38" y="238.46">+</text>
<text class="p" x="128.80" y="238.46">+</text>
<text class="p" x="199.05" y="238.46">+</text>
<text class="p" x="128.80" y="265.69">+</text>
<text class="p" x="292.72" y="265.69">+</text>
<g transform="translate(0,0.45)">
<rect x="569.20" y="336.30" width="41.10" height="18.00" fill="#2260ff"/>
<rect x="569.20" y="318.60" width="41.10" height="18.00" fill="#2682ff"/>
<rect x="569.20" y="300.90" width="41.10" height="18.00" fill="#24a6ff"/>
<rect x="569.20" y="283.20" width="41.10" height="18.00" fill="#1cbeff"/>
<rect x="569.20" y="265.50" width="41.10" height="18.00" fill="#12d6ff"/>
<rect x="569.20" y="247.80" width="41.10" height="18.00" fill="#20ffff"/>
<rect x="569.20" y="230.10" width="41.10" height="18.00" fill="#40ffff"/>
<rect x="569.20" y="212.40" width="41.10" height="18.00" fill="#60ffff"/>
<rect x="569.20" y="194.70" width="41.10" height="18.00" fill="#80ffff"/>
<rect x="569.20" y="177.00" width="41.10" height="18.00" fill="#b9fdf0"/>
<rect x="569.20" y="159.30" width="41.10" height="18.00" fill="#faff6e"/>
<rect x="569.20" y="141.60" width="41.10" height="18.00" fill="#fff02c"/>
<rect x="569.20" y="123.90" width="41.10" height="18.00" fill="#ffd114"/>
<rect x="569.20" y="106.20" width="41.10" height="18.00" fill="#ffb414"/>
<rect x="569.20" y="88.50" width="41.10" height="18.00" fill="#ffa000"/>
<rect x="569.20" y="70.80" width="41.10" height="18.00" fill="#ff8c00"/>
<rect x="569.20" y="53.10" width="41.10" height="18.00" fill="#ff7810"/>
<rect x="569.20" y="35.40" width="41.10" height="18.00" fill="#ff6410"/>
<rect x="569.20" y="17.70" width="41.10" height="18.00" fill="#ff4000"/>
<rect x="569.20" y="0.00" width="41.10" height="18.00" fill="#ff0800"/>
<rect x="569.20" y="0" width="41.10" height="354.00" fill="none" stroke="#000" stroke-width="1.2"/>
<text class="k" x="616.3" y="9.2">30</text>
<path d="M569.20 59.00h3.5M610.30 59.00h-3.5" stroke="#000" stroke-width="1.2"/>
<text class="k" x="616.3" y="68.2">20</text>
<path d="M569.20 118.00h3.5M610.30 118.00h-3.5" stroke="#000" stroke-width="1.2"/>
<text class="k" x="616.3" y="127.2">10</text>
<path d="M569.20 177.00h3.5M610.30 177.00h-3.5" stroke="#000" stroke-width="1.2"/>
<text class="k" x="616.3" y="186.2">0</text>
<path d="M569.20 236.00h3.5M610.30 236.00h-3.5" stroke="#000" stroke-width="1.2"/>
<text class="k" x="616.3" y="245.2"><tspan dy="2.4">−</tspan><tspan dy="-2.4">10</tspan></text>
<path d="M569.20 295.00h3.5M610.30 295.00h-3.5" stroke="#000" stroke-width="1.2"/>
<text class="k" x="616.3" y="304.2"><tspan dy="2.4">−</tspan><tspan dy="-2.4">20</tspan></text>
<text class="k" x="616.3" y="363.2"><tspan dy="2.4">−</tspan><tspan dy="-2.4">30</tspan></text>
</g>
</g>
<g transform="translate(705.10,490.30)">
<text class="t" x="0.9" y="-18.8">(e) Freeze<tspan dy="2.4">−</tspan><tspan dy="-2.4">up Day In WRF</tspan><tspan dy="2.4">−</tspan><tspan dy="-2.4">FLake Since 20140701</tspan></text>
<rect x="327.84" y="54.46" width="23.42" height="27.23" fill="#ffa000"/>
<rect x="421.51" y="54.46" width="46.83" height="27.23" fill="#ff6410"/>
<rect x="70.25" y="81.69" width="23.42" height="27.23" fill="#2260ff"/>
<rect x="93.67" y="81.69" width="23.42" height="27.23" fill="#80ffff"/>
<rect x="117.09" y="81.69" width="23.42" height="27.23" fill="#fff02c"/>
<rect x="140.50" y="81.69" width="23.42" height="27.23" fill="#ffd114"/>
<rect x="304.43" y="81.69" width="46.83" height="27.23" fill="#faff6e"/>
<rect x="351.26" y="81.69" width="46.83" height="27.23" fill="#ffa000"/>
<rect x="398.10" y="81.69" width="23.42" height="27.23" fill="#fff02c"/>
<rect x="421.51" y="81.69" width="23.42" height="27.23" fill="#ff8c00"/>
<rect x="444.93" y="81.69" width="23.42" height="27.23" fill="#ff7810"/>
<rect x="468.35" y="81.69" width="46.83" height="27.23" fill="#ff0800"/>
<rect x="70.25" y="108.92" width="23.42" height="27.23" fill="#faff6e"/>
<rect x="93.67" y="108.92" width="23.42" height="27.23" fill="#12d6ff"/>
<rect x="117.09" y="108.92" width="23.42" height="27.23" fill="#60ffff"/>
<rect x="163.92" y="108.92" width="23.42" height="27.23" fill="#b9fdf0"/>
<rect x="187.34" y="108.92" width="23.42" height="27.23" fill="#80ffff"/>
<rect x="257.59" y="108.92" width="46.83" height="27.23" fill="#ffd114"/>
<rect x="304.43" y="108.92" width="93.67" height="27.23" fill="#faff6e"/>
<rect x="398.10" y="108.92" width="23.42" height="27.23" fill="#ff8c00"/>
<rect x="421.51" y="108.92" width="23.42" height="27.23" fill="#fff02c"/>
<rect x="444.93" y="108.92" width="23.42" height="27.23" fill="#ff8c00"/>
<rect x="468.35" y="108.92" width="23.42" height="27.23" fill="#ff6410"/>
<rect x="491.77" y="108.92" width="23.42" height="27.23" fill="#ff0800"/>
<rect x="70.25" y="136.15" width="23.42" height="27.23" fill="#80ffff"/>
<rect x="93.67" y="136.15" width="23.42" height="27.23" fill="#12d6ff"/>
<rect x="140.50" y="136.15" width="23.42" height="27.23" fill="#80ffff"/>
<rect x="163.92" y="136.15" width="23.42" height="27.23" fill="#60ffff"/>
<rect x="187.34" y="136.15" width="70.25" height="27.23" fill="#80ffff"/>
<rect x="257.59" y="136.15" width="23.42" height="27.23" fill="#60ffff"/>
<rect x="281.01" y="136.15" width="23.42" height="27.23" fill="#fff02c"/>
<rect x="304.43" y="136.15" width="46.83" height="27.23" fill="#faff6e"/>
<rect x="351.26" y="136.15" width="23.42" height="27.23" fill="#60ffff"/>
<rect x="374.68" y="136.15" width="23.42" height="27.23" fill="#ffd114"/>
<rect x="398.10" y="136.15" width="23.42" height="27.23" fill="#fff02c"/>
<rect x="421.51" y="136.15" width="23.42" height="27.23" fill="#ffd114"/>
<rect x="70.25" y="163.38" width="23.42" height="27.23" fill="#2260ff"/>
<rect x="93.67" y="163.38" width="23.42" height="27.23" fill="#12d6ff"/>
<rect x="140.50" y="163.38" width="70.25" height="27.23" fill="#60ffff"/>
<rect x="210.76" y="163.38" width="23.42" height="27.23" fill="#80ffff"/>
<rect x="281.01" y="163.38" width="23.42" height="27.23" fill="#fff02c"/>
<rect x="304.43" y="163.38" width="23.42" height="27.23" fill="#ffd114"/>
<rect x="327.84" y="163.38" width="23.42" height="27.23" fill="#faff6e"/>
<rect x="351.26" y="163.38" width="23.42" height="27.23" fill="#fff02c"/>
<rect x="374.68" y="163.38" width="23.42" height="27.23" fill="#80ffff"/>
<rect x="398.10" y="163.38" width="23.42" height="27.23" fill="#ffb414"/>
<rect x="140.50" y="190.62" width="23.42" height="27.23" fill="#faff6e"/>
<rect x="163.92" y="190.62" width="23.42" height="27.23" fill="#60ffff"/>
<rect x="210.76" y="190.62" width="23.42" height="27.23" fill="#80ffff"/>
<rect x="234.17" y="190.62" width="46.83" height="27.23" fill="#faff6e"/>
<rect x="327.84" y="190.62" width="23.42" height="27.23" fill="#faff6e"/>
<rect x="351.26" y="190.62" width="23.42" height="27.23" fill="#60ffff"/>
<rect x="374.68" y="190.62" width="46.83" height="27.23" fill="#faff6e"/>
<rect x="70.25" y="217.85" width="23.42" height="27.23" fill="#fff02c"/>
<rect x="140.50" y="217.85" width="46.83" height="27.23" fill="#faff6e"/>
<rect x="210.76" y="217.85" width="23.42" height="27.23" fill="#80ffff"/>
<rect x="234.17" y="217.85" width="46.83" height="27.23" fill="#faff6e"/>
<rect x="281.01" y="217.85" width="23.42" height="27.23" fill="#b9fdf0"/>
<rect x="304.43" y="217.85" width="23.42" height="27.23" fill="#80ffff"/>
<rect x="327.84" y="217.85" width="23.42" height="27.23" fill="#60ffff"/>
<rect x="351.26" y="217.85" width="23.42" height="27.23" fill="#ffd114"/>
<rect x="70.25" y="245.08" width="23.42" height="27.23" fill="#2260ff"/>
<rect x="93.67" y="245.08" width="23.42" height="27.23" fill="#faff6e"/>
<rect x="140.50" y="245.08" width="93.67" height="27.23" fill="#faff6e"/>
<rect x="234.17" y="245.08" width="46.83" height="27.23" fill="#ffd114"/>
<rect x="304.43" y="245.08" width="23.42" height="27.23" fill="#60ffff"/>
<rect x="70.25" y="272.31" width="23.42" height="27.23" fill="#fff02c"/>
<rect x="93.67" y="272.31" width="93.67" height="27.23" fill="#faff6e"/>
<rect x="187.34" y="272.31" width="23.42" height="27.23" fill="#ffd114"/>
<rect x="210.76" y="272.31" width="46.83" height="27.23" fill="#faff6e"/>
<rect x="93.67" y="299.54" width="23.42" height="27.23" fill="#ffd114"/>
<rect x="117.09" y="299.54" width="23.42" height="27.23" fill="#ffa000"/>
<path d="M327.84 81.69L351.26 54.46M421.51 81.69L444.93 54.46M444.93 81.69L468.35 54.46M70.25 108.92L93.67 81.69M93.67 108.92L117.09 81.69M117.09 108.92L140.50 81.69M140.50 108.92L163.92 81.69M304.43 108.92L327.84 81.69M327.84 108.92L351.26 81.69M351.26 108.92L374.68 81.69M374.68 108.92L398.10 81.69M398.10 108.92L421.51 81.69M421.51 108.92L444.93 81.69M444.93 108.92L468.35 81.69M468.35 108.92L491.77 81.69M491.77 108.92L515.18 81.69M70.25 136.15L93.67 108.92M93.67 136.15L117.09 108.92M117.09 136.15L140.50 108.92M163.92 136.15L187.34 108.92M187.34 136.15L210.76 108.92M257.59 136.15L281.01 108.92M281.01 136.15L304.43 108.92M304.43 136.15L327.84 108.92M327.84 136.15L351.26 108.92M351.26 136.15L374.68 108.92M374.68 136.15L398.10 108.92M398.10 136.15L421.51 108.92M421.51 136.15L444.93 108.92M444.93 136.15L468.35 108.92M468.35 136.15L491.77 108.92M491.77 136.15L515.18 108.92M70.25 163.38L93.67 136.15M93.67 163.38L117.09 136.15M140.50 163.38L163.92 136.15M163.92 163.38L187.34 136.15M187.34 163.38L210.76 136.15M210.76 163.38L234.17 136.15M234.17 163.38L257.59 136.15M257.59 163.38L281.01 136.15M281.01 163.38L304.43 136.15M304.43 163.38L327.84 136.15M327.84 163.38L351.26 136.15M351.26 163.38L374.68 136.15M374.68 163.38L398.10 136.15M398.10 163.38L421.51 136.15M421.51 163.38L444.93 136.15M70.25 190.62L93.67 163.38M93.67 190.62L117.09 163.38M140.50 190.62L163.92 163.38M163.92 190.62L187.34 163.38M187.34 190.62L210.76 163.38M210.76 190.62L234.17 163.38M281.01 190.62L304.43 163.38M304.43 190.62L327.84 163.38M327.84 190.62L351.26 163.38M351.26 190.62L374.68 163.38M374.68 190.62L398.10 163.38M398.10 190.62L421.51 163.38M140.50 217.85L163.92 190.62M163.92 217.85L187.34 190.62M210.76 217.85L234.17 190.62M234.17 217.85L257.59 190.62M257.59 217.85L281.01 190.62M327.84 217.85L351.26 190.62M351.26 217.85L374.68 190.62M374.68 217.85L398.10 190.62M398.10 217.85L421.51 190.62M70.25 245.08L93.67 217.85M140.50 245.08L163.92 217.85M163.92 245.08L187.34 217.85M210.76 245.08L234.17 217.85M234.17 245.08L257.59 217.85M257.59 245.08L281.01 217.85M281.01 245.08L304.43 217.85M304.43 245.08L327.84 217.85M327.84 245.08L351.26 217.85M351.26 245.08L374.68 217.85M70.25 272.31L93.67 245.08M93.67 272.31L117.09 245.08M140.50 272.31L163.92 245.08M163.92 272.31L187.34 245.08M187.34 272.31L210.76 245.08M210.76 272.31L234.17 245.08M234.17 272.31L257.59 245.08M257.59 272.31L281.01 245.08M304.43 272.31L327.84 245.08M70.25 299.54L93.67 272.31M93.67 299.54L117.09 272.31M117.09 299.54L140.50 272.31M140.50 299.54L163.92 272.31M163.92 299.54L187.34 272.31M187.34 299.54L210.76 272.31M210.76 299.54L234.17 272.31M234.17 299.54L257.59 272.31M93.67 326.77L117.09 299.54M117.09 326.77L140.50 299.54" stroke="#fff" stroke-opacity=".10" stroke-width="1" fill="none"/>
<text class="s" x="374.2" y="323.6">STD: 12.10</text>
<path d="M23.42 0V354.00M46.83 0V354.00M70.25 0V354.00M93.67 0V354.00M117.09 0V354.00M140.50 0V354.00M163.92 0V354.00M187.34 0V354.00M210.76 0V354.00M234.17 0V354.00M257.59 0V354.00M281.01 0V354.00M304.43 0V354.00M327.84 0V354.00M351.26 0V354.00M374.68 0V354.00M398.10 0V354.00M421.51 0V354.00M444.93 0V354.00M468.35 0V354.00M491.77 0V354.00M515.18 0V354.00M0 27.23H538.60M0 54.46H538.60M0 81.69H538.60M0 108.92H538.60M0 136.15H538.60M0 163.38H538.60M0 190.62H538.60M0 217.85H538.60M0 245.08H538.60M0 272.31H538.60M0 299.54H538.60M0 326.77H538.60" stroke="#000" stroke-width="1.4" fill="none"/>
<rect x="0" y="0" width="538.60" height="354.00" fill="none" stroke="#000" stroke-width="2.2" stroke-linejoin="round"/>
<text class="p" x="316.13" y="75.08">+</text>
<text class="p" x="480.06" y="75.08">+</text>
<text class="p" x="292.72" y="102.31">+</text>
<text class="p" x="152.21" y="129.54">+</text>
<text class="p" x="128.80" y="156.77">+</text>
<text class="p" x="128.80" y="184.00">+</text>
<text class="p" x="245.88" y="184.00">+</text>
<text class="p" x="269.30" y="184.00">+</text>
<text class="p" x="81.96" y="211.23">+</text>
<text class="p" x="105.38" y="211.23">+</text>
<text class="p" x="128.80" y="211.23">+</text>
<text class="p" x="199.05" y="211.23">+</text>
<text class="p" x="292.72" y="211.23">+</text>
<text class="p" x="316.13" y="211.23">+</text>
<text class="p" x="105.38" y="238.46">+</text>
<text class="p" x="128.80" y="238.46">+</text>
<text class="p" x="199.05" y="238.46">+</text>
<text class="p" x="128.80" y="265.69">+</text>
<text class="p" x="292.72" y="265.69">+</text>
<g transform="translate(0,0.45)">
<rect x="569.20" y="336.30" width="41.10" height="18.00" fill="#2260ff"/>
<rect x="569.20" y="318.60" width="41.10" height="18.00" fill="#2682ff"/>
<rect x="569.20" y="300.90" width="41.10" height="18.00" fill="#24a6ff"/>
<rect x="569.20" y="283.20" width="41.10" height="18.00" fill="#1cbeff"/>
<rect x="569.20" y="265.50" width="41.10" height="18.00" fill="#12d6ff"/>
<rect x="569.20" y="247.80" width="41.10" height="18.00" fill="#20ffff"/>
<rect x="569.20" y="230.10" width="41.10" height="18.00" fill="#40ffff"/>
<rect x="569.20" y="212.40" width="41.10" height="18.00" fill="#60ffff"/>
<rect x="569.20" y="194.70" width="41.10" height="18.00" fill="#80ffff"/>
<rect x="569.20" y="177.00" width="41.10" height="18.00" fill="#b9fdf0"/>
<rect x="569.20" y="159.30" width="41.10" height="18.00" fill="#faff6e"/>
<rect x="569.20" y="141.60" width="41.10" height="18.00" fill="#fff02c"/>
<rect x="569.20" y="123.90" width="41.10" height="18.00" fill="#ffd114"/>
<rect x="569.20" y="106.20" width="41.10" height="18.00" fill="#ffb414"/>
<rect x="569.20" y="88.50" width="41.10" height="18.00" fill="#ffa000"/>
<rect x="569.20" y="70.80" width="41.10" height="18.00" fill="#ff8c00"/>
<rect x="569.20" y="53.10" width="41.10" height="18.00" fill="#ff7810"/>
<rect x="569.20" y="35.40" width="41.10" height="18.00" fill="#ff6410"/>
<rect x="569.20" y="17.70" width="41.10" height="18.00" fill="#ff4000"/>
<rect x="569.20" y="0.00" width="41.10" height="18.00" fill="#ff0800"/>
<rect x="569.20" y="0" width="41.10" height="354.00" fill="none" stroke="#000" stroke-width="1.2"/>
<text class="k" x="616.3" y="9.2">30</text>
<path d="M569.20 59.00h3.5M610.30 59.00h-3.5" stroke="#000" stroke-width="1.2"/>
<text class="k" x="616.3" y="68.2">20</text>
<path d="M569.20 118.00h3.5M610.30 118.00h-3.5" stroke="#000" stroke-width="1.2"/>
<text class="k" x="616.3" y="127.2">10</text>
<path d="M569.20 177.00h3.5M610.30 177.00h-3.5" stroke="#000" stroke-width="1.2"/>
<text class="k" x="616.3" y="186.2">0</text>
<path d="M569.20 236.00h3.5M610.30 236.00h-3.5" stroke="#000" stroke-width="1.2"/>
<text class="k" x="616.3" y="245.2"><tspan dy="2.4">−</tspan><tspan dy="-2.4">10</tspan></text>
<path d="M569.20 295.00h3.5M610.30 295.00h-3.5" stroke="#000" stroke-width="1.2"/>
<text class="k" x="616.3" y="304.2"><tspan dy="2.4">−</tspan><tspan dy="-2.4">20</tspan></text>
<text class="k" x="616.3" y="363.2"><tspan dy="2.4">−</tspan><tspan dy="-2.4">30</tspan></text>
</g>
</g>
<g transform="translate(1392.10,490.30)">
<text class="t" x="0.9" y="-18.8">(f) Freeze<tspan dy="2.4">−</tspan><tspan dy="-2.4">up Day In WRF</tspan><tspan dy="2.4">−</tspan><tspan dy="-2.4">CLake Since 20140701</tspan></text>
<rect x="327.84" y="54.46" width="23.42" height="27.23" fill="#fff02c"/>
<rect x="421.51" y="54.46" width="23.42" height="27.23" fill="#ff6410"/>
<rect x="444.93" y="54.46" width="23.42" height="27.23" fill="#ff8c00"/>
<rect x="70.25" y="81.69" width="23.42" height="27.23" fill="#2260ff"/>
<rect x="93.67" y="81.69" width="46.83" height="27.23" fill="#80ffff"/>
<rect x="140.50" y="81.69" width="23.42" height="27.23" fill="#ffd114"/>
<rect x="304.43" y="81.69" width="70.25" height="27.23" fill="#faff6e"/>
<rect x="374.68" y="81.69" width="46.83" height="27.23" fill="#fff02c"/>
<rect x="421.51" y="81.69" width="23.42" height="27.23" fill="#ffd114"/>
<rect x="444.93" y="81.69" width="70.25" height="27.23" fill="#ffa000"/>
<rect x="70.25" y="108.92" width="23.42" height="27.23" fill="#fff02c"/>
<rect x="93.67" y="108.92" width="46.83" height="27.23" fill="#60ffff"/>
<rect x="163.92" y="108.92" width="23.42" height="27.23" fill="#60ffff"/>
<rect x="187.34" y="108.92" width="23.42" height="27.23" fill="#12d6ff"/>
<rect x="257.59" y="108.92" width="23.42" height="27.23" fill="#80ffff"/>
<rect x="281.01" y="108.92" width="70.25" height="27.23" fill="#b9fdf0"/>
<rect x="351.26" y="108.92" width="46.83" height="27.23" fill="#faff6e"/>
<rect x="398.10" y="108.92" width="23.42" height="27.23" fill="#80ffff"/>
<rect x="421.51" y="108.92" width="23.42" height="27.23" fill="#fff02c"/>
<rect x="444.93" y="108.92" width="46.83" height="27.23" fill="#ffa000"/>
<rect x="491.77" y="108.92" width="23.42" height="27.23" fill="#ff8c00"/>
<rect x="70.25" y="136.15" width="23.42" height="27.23" fill="#80ffff"/>
<rect x="93.67" y="136.15" width="23.42" height="27.23" fill="#12d6ff"/>
<rect x="140.50" y="136.15" width="140.50" height="27.23" fill="#12d6ff"/>
<rect x="281.01" y="136.15" width="46.83" height="27.23" fill="#80ffff"/>
<rect x="327.84" y="136.15" width="46.83" height="27.23" fill="#b9fdf0"/>
<rect x="374.68" y="136.15" width="23.42" height="27.23" fill="#faff6e"/>
<rect x="398.10" y="136.15" width="23.42" height="27.23" fill="#80ffff"/>
<rect x="421.51" y="136.15" width="23.42" height="27.23" fill="#ffd114"/>
<rect x="70.25" y="163.38" width="23.42" height="27.23" fill="#2260ff"/>
<rect x="93.67" y="163.38" width="23.42" height="27.23" fill="#12d6ff"/>
<rect x="140.50" y="163.38" width="70.25" height="27.23" fill="#12d6ff"/>
<rect x="210.76" y="163.38" width="23.42" height="27.23" fill="#20ffff"/>
<rect x="281.01" y="163.38" width="23.42" height="27.23" fill="#60ffff"/>
<rect x="304.43" y="163.38" width="23.42" height="27.23" fill="#80ffff"/>
<rect x="327.84" y="163.38" width="23.42" height="27.23" fill="#b9fdf0"/>
<rect x="351.26" y="163.38" width="46.83" height="27.23" fill="#fff02c"/>
<rect x="398.10" y="163.38" width="23.42" height="27.23" fill="#b9fdf0"/>
<rect x="140.50" y="190.62" width="23.42" height="27.23" fill="#60ffff"/>
<rect x="163.92" y="190.62" width="23.42" height="27.23" fill="#1cbeff"/>
<rect x="210.76" y="190.62" width="23.42" height="27.23" fill="#20ffff"/>
<rect x="234.17" y="190.62" width="46.83" height="27.23" fill="#60ffff"/>
<rect x="327.84" y="190.62" width="70.25" height="27.23" fill="#faff6e"/>
<rect x="398.10" y="190.62" width="23.42" height="27.23" fill="#ffd114"/>
<rect x="70.25" y="217.85" width="23.42" height="27.23" fill="#b9fdf0"/>
<rect x="140.50" y="217.85" width="46.83" height="27.23" fill="#60ffff"/>
<rect x="210.76" y="217.85" width="23.42" height="27.23" fill="#20ffff"/>
<rect x="234.17" y="217.85" width="23.42" height="27.23" fill="#60ffff"/>
<rect x="257.59" y="217.85" width="23.42" height="27.23" fill="#80ffff"/>
<rect x="281.01" y="217.85" width="70.25" height="27.23" fill="#60ffff"/>
<rect x="351.26" y="217.85" width="23.42" height="27.23" fill="#faff6e"/>
<rect x="70.25" y="245.08" width="23.42" height="27.23" fill="#2260ff"/>
<rect x="93.67" y="245.08" width="23.42" height="27.23" fill="#80ffff"/>
<rect x="140.50" y="245.08" width="93.67" height="27.23" fill="#60ffff"/>
<rect x="234.17" y="245.08" width="23.42" height="27.23" fill="#b9fdf0"/>
<rect x="257.59" y="245.08" width="23.42" height="27.23" fill="#faff6e"/>
<rect x="304.43" y="245.08" width="23.42" height="27.23" fill="#20ffff"/>
<rect x="70.25" y="272.31" width="46.83" height="27.23" fill="#80ffff"/>
<rect x="117.09" y="272.31" width="46.83" height="27.23" fill="#60ffff"/>
<rect x="163.92" y="272.31" width="23.42" height="27.23" fill="#b9fdf0"/>
<rect x="187.34" y="272.31" width="23.42" height="27.23" fill="#faff6e"/>
<rect x="210.76" y="272.31" width="23.42" height="27.23" fill="#20ffff"/>
<rect x="234.17" y="272.31" width="23.42" height="27.23" fill="#60ffff"/>
<rect x="93.67" y="299.54" width="46.83" height="27.23" fill="#faff6e"/>
<path d="M327.84 81.69L351.26 54.46M421.51 81.69L444.93 54.46M444.93 81.69L468.35 54.46M70.25 108.92L93.67 81.69M93.67 108.92L117.09 81.69M117.09 108.92L140.50 81.69M140.50 108.92L163.92 81.69M304.43 108.92L327.84 81.69M327.84 108.92L351.26 81.69M351.26 108.92L374.68 81.69M374.68 108.92L398.10 81.69M398.10 108.92L421.51 81.69M421.51 108.92L444.93 81.69M444.93 108.92L468.35 81.69M468.35 108.92L491.77 81.69M491.77 108.92L515.18 81.69M70.25 136.15L93.67 108.92M93.67 136.15L117.09 108.92M117.09 136.15L140.50 108.92M163.92 136.15L187.34 108.92M187.34 136.15L210.76 108.92M257.59 136.15L281.01 108.92M281.01 136.15L304.43 108.92M304.43 136.15L327.84 108.92M327.84 136.15L351.26 108.92M351.26 136.15L374.68 108.92M374.68 136.15L398.10 108.92M398.10 136.15L421.51 108.92M421.51 136.15L444.93 108.92M444.93 136.15L468.35 108.92M468.35 136.15L491.77 108.92M491.77 136.15L515.18 108.92M70.25 163.38L93.67 136.15M93.67 163.38L117.09 136.15M140.50 163.38L163.92 136.15M163.92 163.38L187.34 136.15M187.34 163.38L210.76 136.15M210.76 163.38L234.17 136.15M234.17 163.38L257.59 136.15M257.59 163.38L281.01 136.15M281.01 163.38L304.43 136.15M304.43 163.38L327.84 136.15M327.84 163.38L351.26 136.15M351.26 163.38L374.68 136.15M374.68 163.38L398.10 136.15M398.10 163.38L421.51 136.15M421.51 163.38L444.93 136.15M70.25 190.62L93.67 163.38M93.67 190.62L117.09 163.38M140.50 190.62L163.92 163.38M163.92 190.62L187.34 163.38M187.34 190.62L210.76 163.38M210.76 190.62L234.17 163.38M281.01 190.62L304.43 163.38M304.43 190.62L327.84 163.38M327.84 190.62L351.26 163.38M351.26 190.62L374.68 163.38M374.68 190.62L398.10 163.38M398.10 190.62L421.51 163.38M140.50 217.85L163.92 190.62M163.92 217.85L187.34 190.62M210.76 217.85L234.17 190.62M234.17 217.85L257.59 190.62M257.59 217.85L281.01 190.62M327.84 217.85L351.26 190.62M351.26 217.85L374.68 190.62M374.68 217.85L398.10 190.62M398.10 217.85L421.51 190.62M70.25 245.08L93.67 217.85M140.50 245.08L163.92 217.85M163.92 245.08L187.34 217.85M210.76 245.08L234.17 217.85M234.17 245.08L257.59 217.85M257.59 245.08L281.01 217.85M281.01 245.08L304.43 217.85M304.43 245.08L327.84 217.85M327.84 245.08L351.26 217.85M351.26 245.08L374.68 217.85M70.25 272.31L93.67 245.08M93.67 272.31L117.09 245.08M140.50 272.31L163.92 245.08M163.92 272.31L187.34 245.08M187.34 272.31L210.76 245.08M210.76 272.31L234.17 245.08M234.17 272.31L257.59 245.08M257.59 272.31L281.01 245.08M304.43 272.31L327.84 245.08M70.25 299.54L93.67 272.31M93.67 299.54L117.09 272.31M117.09 299.54L140.50 272.31M140.50 299.54L163.92 272.31M163.92 299.54L187.34 272.31M187.34 299.54L210.76 272.31M210.76 299.54L234.17 272.31M234.17 299.54L257.59 272.31M93.67 326.77L117.09 299.54M117.09 326.77L140.50 299.54" stroke="#fff" stroke-opacity=".10" stroke-width="1" fill="none"/>
<text class="s" x="374.2" y="323.6">STD: 11.63</text>
<path d="M23.42 0V354.00M46.83 0V354.00M70.25 0V354.00M93.67 0V354.00M117.09 0V354.00M140.50 0V354.00M163.92 0V354.00M187.34 0V354.00M210.76 0V354.00M234.17 0V354.00M257.59 0V354.00M281.01 0V354.00M304.43 0V354.00M327.84 0V354.00M351.26 0V354.00M374.68 0V354.00M398.10 0V354.00M421.51 0V354.00M444.93 0V354.00M468.35 0V354.00M491.77 0V354.00M515.18 0V354.00M0 27.23H538.60M0 54.46H538.60M0 81.69H538.60M0 108.92H538.60M0 136.15H538.60M0 163.38H538.60M0 190.62H538.60M0 217.85H538.60M0 245.08H538.60M0 272.31H538.60M0 299.54H538.60M0 326.77H538.60" stroke="#000" stroke-width="1.4" fill="none"/>
<rect x="0" y="0" width="538.60" height="354.00" fill="none" stroke="#000" stroke-width="2.2" stroke-linejoin="round"/>
<text class="p" x="316.13" y="75.08">+</text>
<text class="p" x="480.06" y="75.08">+</text>
<text class="p" x="292.72" y="102.31">+</text>
<text class="p" x="152.21" y="129.54">+</text>
<text class="p" x="128.80" y="156.77">+</text>
<text class="p" x="128.80" y="184.00">+</text>
<text class="p" x="245.88" y="184.00">+</text>
<text class="p" x="269.30" y="184.00">+</text>
<text class="p" x="81.96" y="211.23">+</text>
<text class="p" x="105.38" y="211.23">+</text>
<text class="p" x="128.80" y="211.23">+</text>
<text class="p" x="199.05" y="211.23">+</text>
<text class="p" x="292.72" y="211.23">+</text>
<text class="p" x="316.13" y="211.23">+</text>
<text class="p" x="105.38" y="238.46">+</text>
<text class="p" x="128.80" y="238.46">+</text>
<text class="p" x="199.05" y="238.46">+</text>
<text class="p" x="128.80" y="265.69">+</text>
<text class="p" x="292.72" y="265.69">+</text>
<g transform="translate(0,0.45)">
<rect x="569.20" y="336.30" width="41.10" height="18.00" fill="#2260ff"/>
<rect x="569.20" y="318.60" width="41.10" height="18.00" fill="#2682ff"/>
<rect x="569.20" y="300.90" width="41.10" height="18.00" fill="#24a6ff"/>
<rect x="569.20" y="283.20" width="41.10" height="18.00" fill="#1cbeff"/>
<rect x="569.20" y="265.50" width="41.10" height="18.00" fill="#12d6ff"/>
<rect x="569.20" y="247.80" width="41.10" height="18.00" fill="#20ffff"/>
<rect x="569.20" y="230.10" width="41.10" height="18.00" fill="#40ffff"/>
<rect x="569.20" y="212.40" width="41.10" height="18.00" fill="#60ffff"/>
<rect x="569.20" y="194.70" width="41.10" height="18.00" fill="#80ffff"/>
<rect x="569.20" y="177.00" width="41.10" height="18.00" fill="#b9fdf0"/>
<rect x="569.20" y="159.30" width="41.10" height="18.00" fill="#faff6e"/>
<rect x="569.20" y="141.60" width="41.10" height="18.00" fill="#fff02c"/>
<rect x="569.20" y="123.90" width="41.10" height="18.00" fill="#ffd114"/>
<rect x="569.20" y="106.20" width="41.10" height="18.00" fill="#ffb414"/>
<rect x="569.20" y="88.50" width="41.10" height="18.00" fill="#ffa000"/>
<rect x="569.20" y="70.80" width="41.10" height="18.00" fill="#ff8c00"/>
<rect x="569.20" y="53.10" width="41.10" height="18.00" fill="#ff7810"/>
<rect x="569.20" y="35.40" width="41.10" height="18.00" fill="#ff6410"/>
<rect x="569.20" y="17.70" width="41.10" height="18.00" fill="#ff4000"/>
<rect x="569.20" y="0.00" width="41.10" height="18.00" fill="#ff0800"/>
<rect x="569.20" y="0" width="41.10" height="354.00" fill="none" stroke="#000" stroke-width="1.2"/>
<text class="k" x="616.3" y="9.2">30</text>
<path d="M569.20 59.00h3.5M610.30 59.00h-3.5" stroke="#000" stroke-width="1.2"/>
<text class="k" x="616.3" y="68.2">20</text>
<path d="M569.20 118.00h3.5M610.30 118.00h-3.5" stroke="#000" stroke-width="1.2"/>
<text class="k" x="616.3" y="127.2">10</text>
<path d="M569.20 177.00h3.5M610.30 177.00h-3.5" stroke="#000" stroke-width="1.2"/>
<text class="k" x="616.3" y="186.2">0</text>
<path d="M569.20 236.00h3.5M610.30 236.00h-3.5" stroke="#000" stroke-width="1.2"/>
<text class="k" x="616.3" y="245.2"><tspan dy="2.4">−</tspan><tspan dy="-2.4">10</tspan></text>
<path d="M569.20 295.00h3.5M610.30 295.00h-3.5" stroke="#000" stroke-width="1.2"/>
<text class="k" x="616.3" y="304.2"><tspan dy="2.4">−</tspan><tspan dy="-2.4">20</tspan></text>
<text class="k" x="616.3" y="363.2"><tspan dy="2.4">−</tspan><tspan dy="-2.4">30</tspan></text>
</g>
</g>
</svg></body></html>
